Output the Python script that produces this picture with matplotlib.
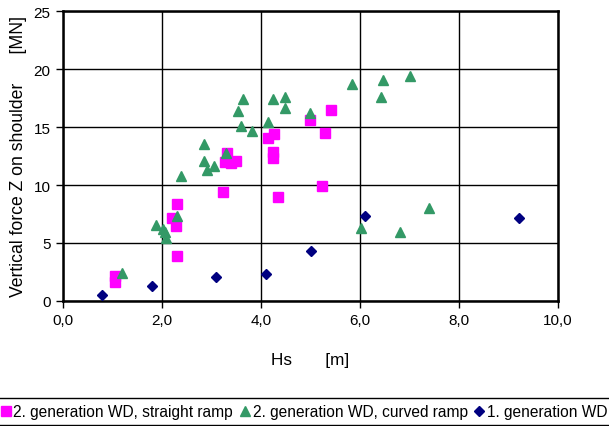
import matplotlib
matplotlib.use("Agg")
import matplotlib.pyplot as plt
from matplotlib.lines import Line2D
from matplotlib.ticker import FuncFormatter

plt.rcParams['font.family'] = ['Liberation Sans', 'DejaVu Sans']

# 2. generation WD, straight ramp
sq_x = [1.05, 1.05, 2.30, 2.30, 2.21, 2.28, 3.23, 3.31, 3.27, 3.40, 3.50, 4.14, 4.27, 4.24, 4.24, 4.34, 4.99, 5.42, 5.30, 5.23]
sq_y = [2.13, 1.65, 3.85, 8.39, 7.16, 6.44, 9.42, 12.73, 12.0, 11.9, 12.1, 14.02, 14.43, 12.87, 12.30, 8.99, 15.63, 16.47, 14.51, 9.91]

# 2. generation WD, curved ramp
tr_x = [1.20, 1.87, 2.03, 2.07, 2.09, 2.30, 2.38, 2.84, 2.84, 2.91, 3.05, 3.29, 3.54, 3.63, 3.60, 3.82,
        4.15, 4.25, 4.49, 4.49, 4.98, 5.84, 6.46, 7.02, 6.42, 7.40, 6.03, 6.80]
tr_y = [2.41, 6.58, 6.21, 5.92, 5.43, 7.36, 10.80, 13.51, 12.04, 11.32, 11.67, 12.73, 16.35, 17.39, 15.06, 14.63,
        15.43, 17.39, 17.61, 16.64, 16.23, 18.68, 19.05, 19.42, 17.61, 7.99, 6.32, 5.92]

# 1. generation WD
di_x = [0.79, 1.80, 3.10, 4.11, 5.00, 6.11, 9.21]
di_y = [0.54, 1.26, 2.10, 2.30, 4.34, 7.30, 7.18]

labels = ["2. generation WD, straight ramp", "2. generation WD, curved ramp", "1. generation WD"]
x_ticks = [0, 2, 4, 6, 8, 10]
y_ticks = [0, 5, 10, 15, 20, 25]

fig = plt.figure(figsize=(6.09, 4.27), dpi=100)
ax = fig.add_axes([63/609, 1-302/427, (558-63)/609, (302-12)/427])

ax.plot(sq_x, sq_y, linestyle='none', marker='s', markersize=6.5, color='#FF00FF', label=labels[0], zorder=3)
ax.plot(tr_x, tr_y, linestyle='none', marker='^', markersize=7.5, color='#339966', label=labels[1], zorder=3)
ax.plot(di_x, di_y, linestyle='none', marker='D', markersize=5.5, color='#000080', label=labels[2], zorder=3)

ax.set_xlim(0, 10)
ax.set_ylim(0, 25)
ax.set_xticks(x_ticks)
ax.set_yticks(y_ticks)
ax.xaxis.set_major_formatter(FuncFormatter(lambda v, p: f"{v:.1f}".replace('.', ',')))
ax.yaxis.set_major_formatter(FuncFormatter(lambda v, p: f"{int(v)}"))
ax.grid(True, color='black', linewidth=1.0)
ax.set_axisbelow(True)
for s in ax.spines.values():
    s.set_linewidth(1.8)
    s.set_color('black')
ax.tick_params(axis='both', direction='out', length=5, width=1, labelsize=11, colors='black', pad=4)

ax.set_xlabel("Hs       [m]", fontsize=12.3, labelpad=18)
fig.text(18.5/609, 1-297/427, "Vertical force Z on shoulder      [MN]", fontsize=12.7,
         rotation=90, ha='center', va='bottom')

handles, lbls = ax.get_legend_handles_labels()
leg = fig.legend(handles, lbls, loc='center', bbox_to_anchor=(0.497, 1-413/427), ncol=3, frameon=False,
                 fontsize=11.2, handletextpad=0.0, columnspacing=0.25, handlelength=1.0, borderaxespad=0)
fig.add_artist(Line2D([0, 1], [1-399/427, 1-399/427], color='black', linewidth=1, transform=fig.transFigure))
fig.add_artist(Line2D([0, 1], [1-426/427, 1-426/427], color='black', linewidth=1, transform=fig.transFigure))

fig.savefig("out.png", dpi=100)
